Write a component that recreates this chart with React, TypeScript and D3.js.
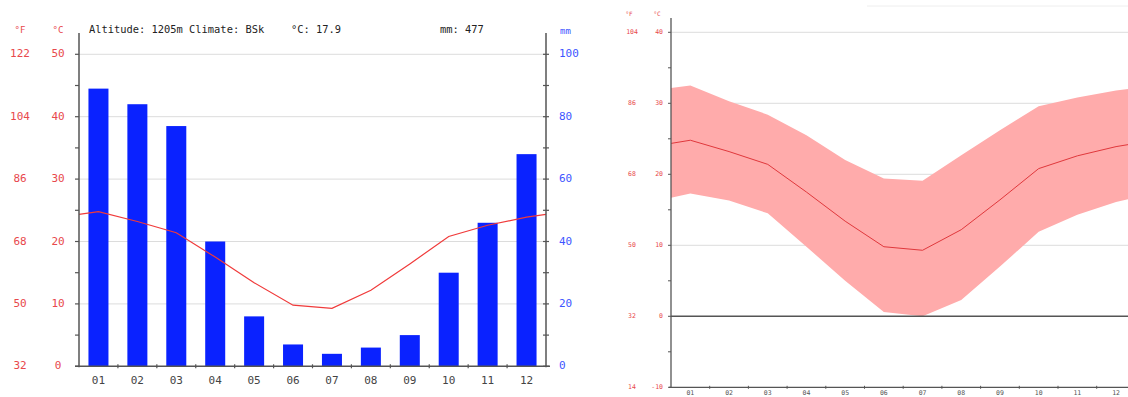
import React from "react";
import * as d3 from "d3";

const months = ["01", "02", "03", "04", "05", "06", "07", "08", "09", "10", "11", "12"];
const tempMean = [24.8, 23.2, 21.4, 17.5, 13.4, 9.8, 9.3, 12.2, 16.4, 20.8, 22.6, 23.9];
const tempMax = [32.5, 30.3, 28.4, 25.5, 22.0, 19.4, 19.1, 22.7, 26.2, 29.6, 30.8, 31.8];
const tempMin = [17.3, 16.3, 14.5, 9.8, 5.0, 0.6, 0.0, 2.3, 7.0, 11.9, 14.3, 16.1];
const precip = [89, 84, 77, 40, 16, 7, 4, 6, 10, 30, 46, 68];
const leftTicksC = [0, 10, 20, 30, 40, 50];
const leftTicksF = ["32", "50", "68", "86", "104", "122"];
const precipTicks = [0, 20, 40, 60, 80, 100];
const rightTicksC = [-10, 0, 10, 20, 30, 40];
const rightTicksF = ["14", "32", "50", "68", "86", "104"];
const headerText = "Altitude: 1205m Climate: BSk";
const headerTemp = "°C: 17.9";
const headerPrecip = "mm: 477";

const MONO = "'DejaVu Sans Mono', monospace";
const RED = "#e8484c";
const BLUE = "#3d55ff";
const AXIS = "#555";
const GRID = "#dcdcdc";

type Pt = { x: number; v: number };

function withEdges(vals: number[], x: d3.ScaleBand<string>, x0: number, x1: number): Pt[] {
  const edge = (vals[0] + vals[vals.length - 1]) / 2;
  const bw = x.bandwidth();
  return [
    { x: x0, v: edge },
    ...vals.map((v, i) => ({ x: (x(months[i]) as number) + bw / 2, v })),
    { x: x1, v: edge },
  ];
}

function LeftChart() {
  const L = 79, R = 546, T = 33, B = 366.3, TOP = 54.3;
  const x = d3.scaleBand<string>().domain(months).range([L, R]).paddingInner(0.486).paddingOuter(0.243);
  const yT = d3.scaleLinear().domain([0, 50]).range([B, TOP]);
  const yP = d3.scaleLinear().domain([0, 100]).range([B, TOP]);
  const pts = withEdges(tempMean, x, L, R);
  const line = d3.line<Pt>().x((d) => d.x).y((d) => yT(d.v));
  const minor = d3.range(0, 55, 5);
  return (
    <g>
      {leftTicksC.filter((t) => t > 0).map((t) => (
        <line key={"g" + t} x1={L} x2={R} y1={yT(t)} y2={yT(t)} stroke={GRID} strokeWidth={1} />
      ))}
      {months.map((m, i) => (
        <rect key={m} x={x(m)} y={yP(precip[i])} width={x.bandwidth()} height={B - yP(precip[i])} fill="#0a22ff" />
      ))}
      <path d={line(pts) || ""} fill="none" stroke="#f03a3a" strokeWidth={1.2} />
      <line x1={L} x2={L} y1={T} y2={B + 1} stroke={AXIS} strokeWidth={1.5} />
      <line x1={R} x2={R} y1={T} y2={B + 1} stroke={AXIS} strokeWidth={1.5} />
      <line x1={L - 4} x2={R + 4} y1={B} y2={B} stroke={AXIS} strokeWidth={1.5} />
      {minor.map((t) => (
        <g key={"mt" + t}>
          <line x1={L - 4} x2={L} y1={yT(t)} y2={yT(t)} stroke={AXIS} strokeWidth={1.2} />
          <line x1={R - 3} x2={R + 3} y1={yT(t)} y2={yT(t)} stroke={AXIS} strokeWidth={1.2} />
        </g>
      ))}
      {months.slice(1).map((m) => {
        const xx = (x(m) as number) - (x.step() - x.bandwidth()) / 2;
        return <line key={"xt" + m} x1={xx} x2={xx} y1={B - 2} y2={B + 2} stroke={AXIS} strokeWidth={1.2} />;
      })}
      {months.map((m) => (
        <text key={"xl" + m} x={(x(m) as number) + x.bandwidth() / 2} y={381} textAnchor="middle" dominantBaseline="middle" fontFamily={MONO} fontSize={11} fill="#444">
          {m}
        </text>
      ))}
      {leftTicksC.map((t, i) => (
        <g key={"yl" + t}>
          <text x={20} y={yT(t)} textAnchor="middle" dominantBaseline="middle" fontFamily={MONO} fontSize={11} fill={RED}>
            {leftTicksF[i]}
          </text>
          <text x={58} y={yT(t)} textAnchor="middle" dominantBaseline="middle" fontFamily={MONO} fontSize={11} fill={RED}>
            {t}
          </text>
        </g>
      ))}
      {precipTicks.map((t) => (
        <text key={"pl" + t} x={559} y={yP(t)} textAnchor="start" dominantBaseline="middle" fontFamily={MONO} fontSize={11} fill={BLUE}>
          {t}
        </text>
      ))}
      <text x={20} y={30} textAnchor="middle" dominantBaseline="middle" fontFamily={MONO} fontSize={9} fill={RED}>°F</text>
      <text x={58} y={30} textAnchor="middle" dominantBaseline="middle" fontFamily={MONO} fontSize={9} fill={RED}>°C</text>
      <text x={560} y={31} textAnchor="start" dominantBaseline="middle" fontFamily={MONO} fontSize={9} fill={BLUE}>mm</text>
      <text x={89} y={30} dominantBaseline="middle" fontFamily={MONO} fontSize={10.4} fill="#222">{headerText}</text>
      <text x={291} y={30} dominantBaseline="middle" fontFamily={MONO} fontSize={10.4} fill="#222">{headerTemp}</text>
      <text x={440} y={30} dominantBaseline="middle" fontFamily={MONO} fontSize={10.4} fill="#222">{headerPrecip}</text>
    </g>
  );
}

function RightChart() {
  const L = 671, R = 671 + 38.7 * 12, T = 18, B = 387.3, TOP = 32.3;
  const x = d3.scaleBand<string>().domain(months).range([L, R]);
  const y = d3.scaleLinear().domain([-10, 40]).range([B, TOP]);
  const hi = withEdges(tempMax, x, L, R);
  const lo = withEdges(tempMin, x, L, R);
  const mean = withEdges(tempMean, x, L, R);
  const band = hi.map((d, i) => ({ x: d.x, hi: d.v, lo: lo[i].v }));
  const area = d3.area<{ x: number; hi: number; lo: number }>().x((d) => d.x).y0((d) => y(d.lo)).y1((d) => y(d.hi));
  const line = d3.line<Pt>().x((d) => d.x).y((d) => y(d.v));
  const minor = d3.range(-10, 45, 5);
  return (
    <g>
      <line x1={867} x2={1128} y1={6} y2={6} stroke="#eeeeee" strokeWidth={1} />
      {rightTicksC.filter((t) => t > 0).map((t) => (
        <line key={"g" + t} x1={L} x2={R} y1={y(t)} y2={y(t)} stroke={GRID} strokeWidth={1} />
      ))}
      <path d={area(band) || ""} fill="#ffabab" />
      <path d={line(mean) || ""} fill="none" stroke="#e0383c" strokeWidth={1} />
      <line x1={L} x2={R} y1={y(0)} y2={y(0)} stroke={AXIS} strokeWidth={1.4} />
      <line x1={L} x2={L} y1={T} y2={B} stroke={AXIS} strokeWidth={1.3} />
      <line x1={L - 2} x2={R} y1={B} y2={B} stroke={AXIS} strokeWidth={1.3} />
      {minor.map((t) => (
        <line key={"mt" + t} x1={L - 3} x2={L} y1={y(t)} y2={y(t)} stroke={AXIS} strokeWidth={1} />
      ))}
      {months.slice(1).map((m) => (
        <line key={"xt" + m} x1={x(m) as number} x2={x(m) as number} y1={B - 1.5} y2={B + 1.5} stroke={AXIS} strokeWidth={1} />
      ))}
      {months.map((m) => (
        <text key={"xl" + m} x={(x(m) as number) + x.bandwidth() / 2} y={393} textAnchor="middle" dominantBaseline="middle" fontFamily={MONO} fontSize={6.5} fill="#555">
          {m}
        </text>
      ))}
      {rightTicksC.map((t, i) => (
        <g key={"yl" + t}>
          <text x={632} y={y(t)} textAnchor="middle" dominantBaseline="middle" fontFamily={MONO} fontSize={6.5} fill={RED}>
            {rightTicksF[i]}
          </text>
          <text x={663} y={y(t)} textAnchor="end" dominantBaseline="middle" fontFamily={MONO} fontSize={6.5} fill={RED}>
            {t}
          </text>
        </g>
      ))}
      <text x={629} y={14} textAnchor="middle" dominantBaseline="middle" fontFamily={MONO} fontSize={6} fill={RED}>°F</text>
      <text x={657} y={14} textAnchor="middle" dominantBaseline="middle" fontFamily={MONO} fontSize={6} fill={RED}>°C</text>
    </g>
  );
}

export default function App() {
  return (
    <svg width={1128} height={397} viewBox="0 0 1128 397" style={{ position: "absolute", left: 0, top: 0, background: "#fff" }}>
      <rect x={0} y={0} width={1128} height={397} fill="#fff" />
      <LeftChart />
      <RightChart />
    </svg>
  );
}
